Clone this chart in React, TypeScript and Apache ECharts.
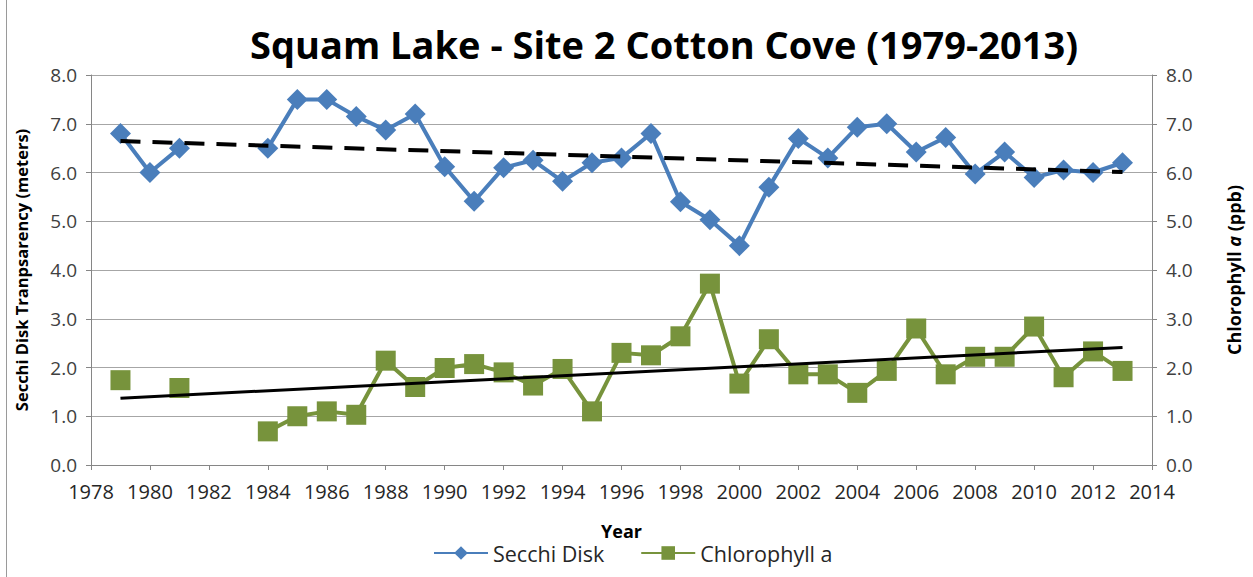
import React, { useEffect, useRef } from "react";
import * as echarts from "echarts";

const years = [1979, 1980, 1981, 1982, 1983, 1984, 1985, 1986, 1987, 1988, 1989, 1990, 1991, 1992, 1993, 1994, 1995, 1996, 1997, 1998, 1999, 2000, 2001, 2002, 2003, 2004, 2005, 2006, 2007, 2008, 2009, 2010, 2011, 2012, 2013];
const secchiValues: (number | null)[] = [6.8, 6.0, 6.5, null, null, 6.5, 7.5, 7.5, 7.15, 6.87, 7.2, 6.12, 5.41, 6.1, 6.25, 5.82, 6.2, 6.3, 6.8, 5.4, 5.03, 4.5, 5.7, 6.7, 6.3, 6.93, 7.0, 6.42, 6.72, 5.97, 6.42, 5.9, 6.05, 6.0, 6.2];
const chlValues: (number | null)[] = [1.74, null, 1.58, null, null, 0.69, 1.0, 1.1, 1.03, 2.14, 1.6, 1.99, 2.07, 1.9, 1.63, 1.97, 1.1, 2.3, 2.25, 2.64, 3.72, 1.67, 2.58, 1.86, 1.86, 1.48, 1.93, 2.8, 1.86, 2.22, 2.22, 2.84, 1.8, 2.33, 1.93];

const xMin = 1978;
const xMax = 2014;
const xInterval = 2;
const yMin = 0;
const yMax = 8;
const yInterval = 1;

function trend(xs: number[], vs: (number | null)[]): number[][] {
  const px: number[] = [];
  const py: number[] = [];
  xs.forEach((x, i) => {
    const v = vs[i];
    if (v !== null) {
      px.push(x);
      py.push(v);
    }
  });
  const n = px.length;
  const mx = px.reduce((a, b) => a + b, 0) / n;
  const my = py.reduce((a, b) => a + b, 0) / n;
  let sxy = 0;
  let sxx = 0;
  for (let i = 0; i < n; i++) {
    sxy += (px[i] - mx) * (py[i] - my);
    sxx += (px[i] - mx) * (px[i] - mx);
  }
  const b = sxy / sxx;
  const a = my - b * mx;
  const x0 = px[0];
  const x1 = px[n - 1];
  return [
    [x0, a + b * x0],
    [x1, a + b * x1],
  ];
}

export default function App() {
  const ref = useRef<HTMLDivElement>(null);
  useEffect(() => {
    if (!ref.current) return;
    const chart = echarts.init(ref.current, undefined, { renderer: "svg" });
    const font = "'Open Sans', 'DejaVu Sans', sans-serif";
    const axisColor = "#868686";
    const gridColor = "#a6a6a6";
    const yAxisCommon = {
      type: "value" as const,
      min: yMin,
      max: yMax,
      interval: yInterval,
      axisLine: { show: true, lineStyle: { color: axisColor, width: 1 } },
      axisTick: { show: true, length: 5, lineStyle: { color: axisColor } },
      splitLine: { show: true, lineStyle: { color: gridColor, width: 1 } },
      axisLabel: {
        formatter: (v: number) => v.toFixed(1),
        color: "#404040",
        fontFamily: font,
        fontSize: 19,
        margin: 14,
      },
      nameLocation: "middle" as const,
      nameRotate: 90,
    };
    chart.setOption({
      animation: false,
      backgroundColor: "#ffffff",
      textStyle: { fontFamily: font },
      title: {
        text: "Squam Lake - Site 2 Cotton Cove (1979-2013)",
        left: 659,
        textAlign: "center",
        top: 20,
        textStyle: { fontFamily: font, fontSize: 38, fontWeight: "bold", color: "#000000" },
      },
      grid: { left: 91, right: 101, top: 75, bottom: 112, containLabel: false },
      graphic: [
        {
          type: "line",
          shape: { x1: 6.5, y1: 0, x2: 6.5, y2: 577 },
          style: { stroke: "#9a9a9a", lineWidth: 1 },
        },
      ],
      legend: {
        left: 428,
        top: 537,
        itemWidth: 54,
        itemHeight: 17,
        itemGap: 36,
        textStyle: { fontFamily: font, fontSize: 21.5, color: "#262626" },
        data: ["Secchi Disk", "Chlorophyll a"],
      },
      xAxis: {
        type: "value",
        min: xMin,
        max: xMax,
        interval: xInterval,
        name: "Year",
        nameLocation: "middle",
        nameGap: 57,
        nameTextStyle: { fontFamily: font, fontSize: 18, fontWeight: "bold", color: "#000000" },
        axisLine: { show: true, lineStyle: { color: axisColor } },
        axisTick: { show: true, length: 5, lineStyle: { color: axisColor } },
        splitLine: { show: false },
        axisLabel: {
          color: "#262626",
          fontFamily: font,
          fontSize: 20,
          margin: 16,
          formatter: (v: number) => String(v),
        },
      },
      yAxis: [
        {
          ...yAxisCommon,
          position: "left",
          name: "Secchi Disk Tranpsarency (meters)",
          nameGap: 61,
          nameTextStyle: { fontFamily: font, fontSize: 16.5, fontWeight: "bold", color: "#000000" },
        },
        {
          ...yAxisCommon,
          position: "right",
          splitLine: { show: false },
          name: "Chlorophyll {i|a} (ppb)",
          nameGap: 73,
          nameTextStyle: {
            fontFamily: font,
            fontSize: 18,
            fontWeight: "bold",
            color: "#000000",
            rich: {
              i: { fontFamily: font, fontSize: 18, fontWeight: "bold", fontStyle: "italic", color: "#000000" },
            },
          },
        },
      ],
      series: [
        {
          name: "Secchi Disk",
          type: "line",
          yAxisIndex: 0,
          data: years.map((y, i) => [y, secchiValues[i]]),
          connectNulls: false,
          symbol: "diamond",
          symbolSize: 21,
          lineStyle: { color: "#4a7ebb", width: 4 },
          itemStyle: { color: "#4a7ebb" },
          z: 3,
        },
        {
          name: "Chlorophyll a",
          type: "line",
          yAxisIndex: 1,
          data: years.map((y, i) => [y, chlValues[i]]),
          connectNulls: false,
          symbol: "rect",
          symbolSize: 20,
          lineStyle: { color: "#77933c", width: 4 },
          itemStyle: { color: "#77933c" },
          z: 3,
        },
        {
          name: "Secchi trend",
          type: "line",
          yAxisIndex: 0,
          data: trend(years, secchiValues),
          symbol: "none",
          lineStyle: { color: "#000000", width: 4, type: [20, 12] },
          z: 4,
        },
        {
          name: "Chl trend",
          type: "line",
          yAxisIndex: 1,
          data: trend(years, chlValues),
          symbol: "none",
          lineStyle: { color: "#000000", width: 3 },
          z: 4,
        },
      ],
    });
    return () => chart.dispose();
  }, []);
  return (
    <div
      ref={ref}
      style={{ position: "fixed", left: 0, top: 0, width: 1253, height: 577 }}
    />
  );
}
